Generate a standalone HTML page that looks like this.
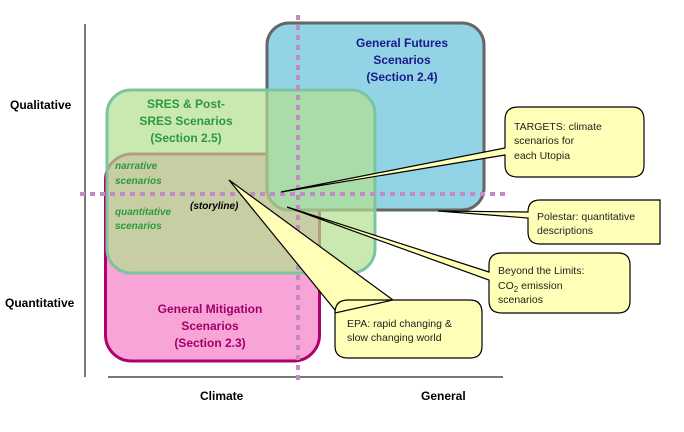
<!DOCTYPE html>
<html><head><meta charset="utf-8"><style>
body{margin:0;background:#fff}
svg text{font-family:"Liberation Sans",sans-serif}
</style></head><body>
<svg width="684" height="427" viewBox="0 0 684 427" xmlns="http://www.w3.org/2000/svg">
<rect width="684" height="427" fill="#fff"/>
<line x1="85" y1="24" x2="85" y2="377" stroke="#777" stroke-width="2"/>
<line x1="108" y1="377" x2="503" y2="377" stroke="#777" stroke-width="2"/>
<rect x="105.5" y="154" width="214" height="207" rx="26" fill="#f9a4d6" stroke="#b0006e" stroke-width="3"/>
<rect x="267" y="23" width="217" height="187" rx="22" fill="#93d3e6" stroke="#666" stroke-width="3"/>
<rect x="107" y="90" width="268" height="183" rx="24" fill="#b3e08f" fill-opacity="0.7" stroke="#7cc4a0" stroke-width="3"/>
<g stroke="#c48ac6" stroke-width="4" stroke-dasharray="5,5">
<line x1="298" y1="15" x2="298" y2="385"/>
<line x1="80" y1="194" x2="505" y2="194"/>
</g>
<g fill="#ffffb8" stroke="#000" stroke-width="1.2">
<path d="M505 120 Q505 107 518 107 L632 107 Q644 107 644 120 L644 165 Q644 177 632 177 L518 177 Q505 177 505 165 L505 155 L281 192 L505 148 Z"/>
<path d="M528 212 Q528 200 540 200 L660 200 L660 244 L540 244 Q528 244 528 232 L528 218 L438 211 Z"/>
<path d="M489 265 Q489 253 502 253 L618 253 Q630 253 630 265 L630 301 Q630 313 618 313 L502 313 Q489 313 489 301 L489 280 L287 207 L489 272 Z"/>
<path d="M335 313 Q335 300 348 300 L470 300 Q482 300 482 313 L482 346 Q482 358 470 358 L348 358 Q335 358 335 346 L335 310 L229 180 L393 300 Z"/>
</g>
<g font-weight="bold" font-size="12" text-anchor="middle">
<text x="402" y="47" fill="#1a1a8a">General  Futures</text>
<text x="402" y="64" fill="#1a1a8a">Scenarios</text>
<text x="402" y="81" fill="#1a1a8a">(Section 2.4)</text>
<text x="186" y="108" fill="#2a9a3a">SRES  &amp;  Post-</text>
<text x="186" y="125" fill="#2a9a3a">SRES  Scenarios</text>
<text x="186" y="142" fill="#2a9a3a">(Section  2.5)</text>
<text x="210" y="313" fill="#a0006a">General  Mitigation</text>
<text x="210" y="330" fill="#a0006a">Scenarios</text>
<text x="210" y="347" fill="#a0006a">(Section  2.3)</text>
</g>
<g font-weight="bold" font-style="italic" font-size="10" fill="#2a9a3a">
<text x="115" y="169">narrative</text>
<text x="115" y="184">scenarios</text>
<text x="115" y="215">quantitative</text>
<text x="115" y="229">scenarios</text>
</g>
<text x="190" y="209" font-weight="bold" font-style="italic" font-size="10" fill="#000">(storyline)</text>
<g font-weight="bold" font-size="12" fill="#000">
<text x="10" y="109">Qualitative</text>
<text x="5" y="307">Quantitative</text>
<text x="200" y="400">Climate</text>
<text x="421" y="400">General</text>
</g>
<g font-size="10.5" fill="#222">
<text x="514" y="130">TARGETS: climate</text>
<text x="514" y="144">scenarios for</text>
<text x="514" y="159">each Utopia</text>
<text x="537" y="220">Polestar: quantitative</text>
<text x="537" y="234">descriptions</text>
<text x="498" y="274">Beyond the Limits:</text>
<text x="498" y="289">CO<tspan font-size="8" dy="3">2</tspan><tspan dy="-3"> emission</tspan></text>
<text x="498" y="303">scenarios</text>
<text x="347" y="327">EPA: rapid changing &amp;</text>
<text x="347" y="341">slow changing world</text>
</g>
</svg>
</body></html>
